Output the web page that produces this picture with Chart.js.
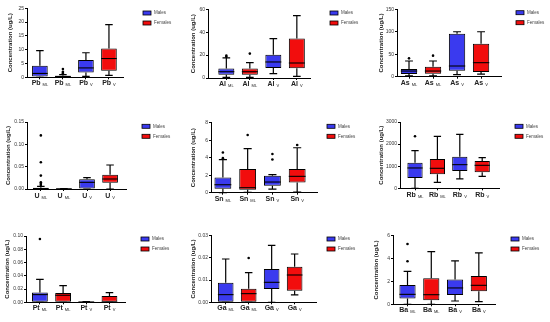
<!DOCTYPE html>
<html>
<head>
<meta charset="utf-8">
<script src="https://cdn.jsdelivr.net/npm/chart.js@4.4.1/dist/chart.umd.min.js"></script>
<style>
  body { margin:0; background:#fff; width:550px; height:322px; position:relative; overflow:hidden; }
  canvas { position:absolute; }
</style>
</head>
<body>
<script>
// categories
const elements = ['Pb','Al','As','U','Sn','Rb','Pt','Ga','Ba']
const groups = ['ML','ML','V','V']
const sexes = ['Males','Females','Males','Females']
const sexNames = ['Males','Females']

// one row per box: [min, q1, median, q3, max]
const pbBoxes = [[0,0.3,1.4,4.2,9.7],[0,0.1,0.3,0.6,1.0],[0.3,1.7,3.4,6.3,8.9],[0.7,2.4,6.8,10.4,19.1]]
const pbOutliers = [[],[1.3,1.6,2.0,3.0],[],[]]
const pbTicks = [0,5,10,15,20,25]

const alBoxes = [[0.5,2.9,5.5,8.4,17.5],[0.5,2.9,5.5,8.2,13.4],[3.8,8.7,14,20.4,34.4],[1.5,8.5,13.1,34.4,54.5]]
const alOutliers = [[18.5,19.5],[21.3],[],[]]
const alTicks = [0,20,40,60]

const asBoxes = [[2,5.9,12.6,17,34.9],[2,6.7,12.6,22.3,34.9],[4.5,13.4,23.8,95.8,100],[5.9,10.4,31.2,73.5,100]]
const asOutliers = [[40.8],[46.8],[],[]]
const asTicks = [0,50,100,150]

const uBoxes = [[0,0,0.001,0.003,0.006],[0,0,0.0005,0.001,0.001],[0,0,0.0149,0.0216,0.0254],[0,0.0142,0.0224,0.032,0.0537]]
const uOutliers = [[0.009,0.012,0.015,0.03,0.06,0.12],[],[],[]]
const uTicks = [0,0.05,0.10,0.15]

const snBoxes = [[0,0.46,0.91,1.75,3.77],[0.05,0.34,0.57,2.7,5.03],[0.42,0.8,1.22,1.94,2.06],[0.08,1.18,1.87,2.7,5.14]]
const snOutliers = [[3.95,4.6],[6.6],[3.8,4.42],[5.45]]
const snTicks = [0,2,4,6,8]

const rbBoxes = [[0,467,920,1161,1704],[271,633,905,1327,2352],[422,784,1070,1432,2442],[543,724,1040,1236,1387]]
const rbOutliers = [[2352],[],[],[]]
const rbTicks = [0,1000,2000,3000]

const ptBoxes = [[0,0,0.0116,0.0146,0.0347],[0,0,0.0106,0.014,0.0251],[0,0,0.0005,0.001,0.001],[0,0,0.0002,0.0095,0.0146]]
const ptOutliers = [[0.0955],[],[],[]]
const ptTicks = [0,0.02,0.04,0.06,0.08,0.10]

const gaBoxes = [[0,0,0.00345,0.00885,0.0195],[0,0,0.0039,0.00615,0.01335],[0,0.006,0.009,0.015,0.02565],[0.0033,0.00525,0.0123,0.016,0.02175]]
const gaOutliers = [[],[0.01995],[],[]]
const gaTicks = [0,0.01,0.02,0.03]

const baBoxes = [[0,0.5,0.87,1.69,2.88],[0,0.35,0.84,2.27,4.6],[0.29,0.82,1.43,2.18,3.79],[0.23,1.14,1.66,2.48,4.49]]
const baOutliers = [[3.76,5.27],[],[],[]]
const baTicks = [0,2,4,6]

const allBoxes = [pbBoxes,alBoxes,asBoxes,uBoxes,snBoxes,rbBoxes,ptBoxes,gaBoxes,baBoxes]
const allOutliers = [pbOutliers,alOutliers,asOutliers,uOutliers,snOutliers,rbOutliers,ptOutliers,gaOutliers,baOutliers]
const allTicks = [pbTicks,alTicks,asTicks,uTicks,snTicks,rbTicks,ptTicks,gaTicks,baTicks]

// placement of each panel on the page (pixels)
const layout = [
  {left:0,   top:0,   w:183, h:107, axisX:27, plotTop:8.3,  plotBottom:77.3, plotRight:123, xMin:-0.56, xMax:3.61, titleX:10, legendX:143, legendY:13,   labelY:83},
  {left:183, top:0,   w:183, h:107, axisX:25, plotTop:9.3,  plotBottom:78,   plotRight:127, xMin:-0.78, xMax:3.56, titleX:10, legendX:147, legendY:13,   labelY:84},
  {left:366, top:0,   w:184, h:107, axisX:31, plotTop:9.3,  plotBottom:76.7, plotRight:135, xMin:-0.5,  xMax:3.83, titleX:15, legendX:150, legendY:12.7, labelY:83},
  {left:0,   top:107, w:183, h:107, axisX:27, plotTop:15,   plotBottom:82,   plotRight:126, xMin:-0.6,  xMax:3.69, titleX:8,  legendX:142, legendY:19.3, labelY:89},
  {left:183, top:107, w:183, h:107, axisX:28, plotTop:15.7, plotBottom:85.7, plotRight:134, xMin:-0.48, xMax:3.8,  titleX:10, legendX:144, legendY:19.3, labelY:92},
  {left:366, top:107, w:184, h:107, axisX:34, plotTop:15,   plotBottom:81.3, plotRight:133, xMin:-0.67, xMax:3.75, titleX:15, legendX:149, legendY:19.3, labelY:88},
  {left:0,   top:214, w:183, h:108, axisX:26, plotTop:22,   plotBottom:88.3, plotRight:125, xMin:-0.6,  xMax:3.67, titleX:7,  legendX:141, legendY:25,   labelY:94},
  {left:183, top:214, w:183, h:108, axisX:28, plotTop:21.7, plotBottom:88.3, plotRight:133, xMin:-0.64, xMax:3.93, titleX:10, legendX:144, legendY:25,   labelY:94},
  {left:366, top:214, w:184, h:108, axisX:27, plotTop:21.7, plotBottom:90.3, plotRight:129, xMin:-0.61, xMax:3.68, titleX:10, legendX:145, legendY:25,   labelY:96}
]

const BLUE = '#3a3aef'
const RED = '#f20d0d'
const FONT = "'Liberation Sans', Arial, sans-serif"
Chart.defaults.font.family = FONT

// whiskers, medians, category labels with subscript, legend
function boxPlugin(p){
  const L = layout[p]
  const boxes = allBoxes[p]
  return {
    id:'boxplot'+p,
    afterDatasetsDraw(chart){
      const ctx = chart.ctx
      const y = chart.scales.y
      const meta = chart.getDatasetMeta(0)
      ctx.save()
      ctx.strokeStyle = '#000'
      meta.data.forEach((bar,i)=>{
        const b = boxes[i]
        const x = bar.x, w = bar.width
        const cap = w*0.24
        ctx.lineWidth = 1.2
        ctx.beginPath()
        ctx.moveTo(x, y.getPixelForValue(b[3])); ctx.lineTo(x, y.getPixelForValue(b[4]))
        ctx.moveTo(x-cap, y.getPixelForValue(b[4])); ctx.lineTo(x+cap, y.getPixelForValue(b[4]))
        ctx.moveTo(x, y.getPixelForValue(b[1])); ctx.lineTo(x, y.getPixelForValue(b[0]))
        ctx.moveTo(x-cap, y.getPixelForValue(b[0])); ctx.lineTo(x+cap, y.getPixelForValue(b[0]))
        ctx.stroke()
        ctx.lineWidth = 1.1
        ctx.beginPath()
        ctx.moveTo(x-w/2, y.getPixelForValue(b[2])); ctx.lineTo(x+w/2, y.getPixelForValue(b[2]))
        ctx.stroke()

        // category label: element + subscript group
        const main = elements[p], sub = groups[i]
        ctx.font = 'bold 7px ' + FONT
        const mw = ctx.measureText(main).width
        ctx.font = '4px ' + FONT
        const sw = ctx.measureText(sub).width
        const x0 = x - (mw + 2 + sw)/2
        ctx.fillStyle = '#222'
        ctx.textBaseline = 'middle'
        ctx.textAlign = 'left'
        ctx.font = 'bold 7px ' + FONT
        ctx.fillText(main, x0, L.labelY)
        ctx.font = '4px ' + FONT
        ctx.fillText(sub, x0 + mw + 2, L.labelY + 1.8)
      })

      // legend
      sexNames.forEach((s,k)=>{
        const ly = L.legendY + k*10
        ctx.fillStyle = s==='Males' ? BLUE : RED
        ctx.fillRect(L.legendX, ly-2, 8, 4)
        ctx.lineWidth = 0.8
        ctx.strokeStyle = '#000'
        ctx.strokeRect(L.legendX, ly-2, 8, 4)
        ctx.fillStyle = '#444'
        ctx.font = '4.5px ' + FONT
        ctx.textBaseline = 'middle'
        ctx.textAlign = 'left'
        ctx.fillText(s, L.legendX + 11, ly)
      })
      ctx.restore()
    }
  }
}

function drawPanel(p){
  const L = layout[p]
  const boxes = allBoxes[p]
  const outliers = allOutliers[p]
  const ticks = allTicks[p]
  const dec = (String(ticks[1]).split('.')[1] || '').length

  const canvas = document.createElement('canvas')
  canvas.width = L.w
  canvas.height = L.h
  canvas.style.left = L.left + 'px'
  canvas.style.top = L.top + 'px'
  document.body.appendChild(canvas)

  new Chart(canvas, {
    type:'bar',
    data:{
      datasets:[
        {
          type:'bar',
          data: boxes.map((b,i)=>({x:i, y:[b[1], b[3]]})),
          backgroundColor: sexes.map(s=> s==='Males' ? BLUE : RED),
          borderColor:'#000',
          borderWidth:1,
          borderSkipped:false,
          barPercentage:0.68,
          categoryPercentage:1,
        },
        {
          type:'scatter',
          data: outliers.flatMap((arr,i)=>arr.map(v=>({x:i, y:v}))),
          pointRadius:1.3,
          pointBackgroundColor:'#000',
          pointBorderWidth:0,
        }
      ]
    },
    options:{
      responsive:false,
      animation:false,
      devicePixelRatio:1,
      layout:{padding:{top:L.plotTop, right:L.w-L.plotRight, left:0, bottom:0}},
      plugins:{legend:{display:false}, tooltip:{enabled:false}},
      scales:{
        x:{
          type:'linear',
          offset:false,
          min:L.xMin, max:L.xMax,
          afterBuildTicks(s){ s.ticks = [0,1,2,3].map(v=>({value:v})) },
          afterFit(s){ s.height = L.h - L.plotBottom },
          ticks:{display:false},
          grid:{offset:false, drawOnChartArea:false, color:'#000', tickLength:2, lineWidth:1},
          border:{color:'#000', width:1}
        },
        y:{
          min:0, max:ticks[ticks.length-1],
          afterBuildTicks(s){ s.ticks = ticks.map(v=>({value:v})) },
          afterFit(s){ s.width = L.axisX },
          ticks:{font:{size:5}, color:'#333', padding:1, callback:v=>v.toFixed(dec)},
          title:{display:true, text:'Concentration (ug/L)', color:'#222', font:{size:6, weight:'bold'}, padding:{top:L.titleX-3.6, bottom:0}},
          grid:{drawOnChartArea:false, color:'#000', tickLength:2, lineWidth:1},
          border:{color:'#000', width:1}
        }
      }
    },
    plugins:[boxPlugin(p)]
  })
}

elements.forEach((e,p)=>drawPanel(p))
</script>
</body>
</html>
